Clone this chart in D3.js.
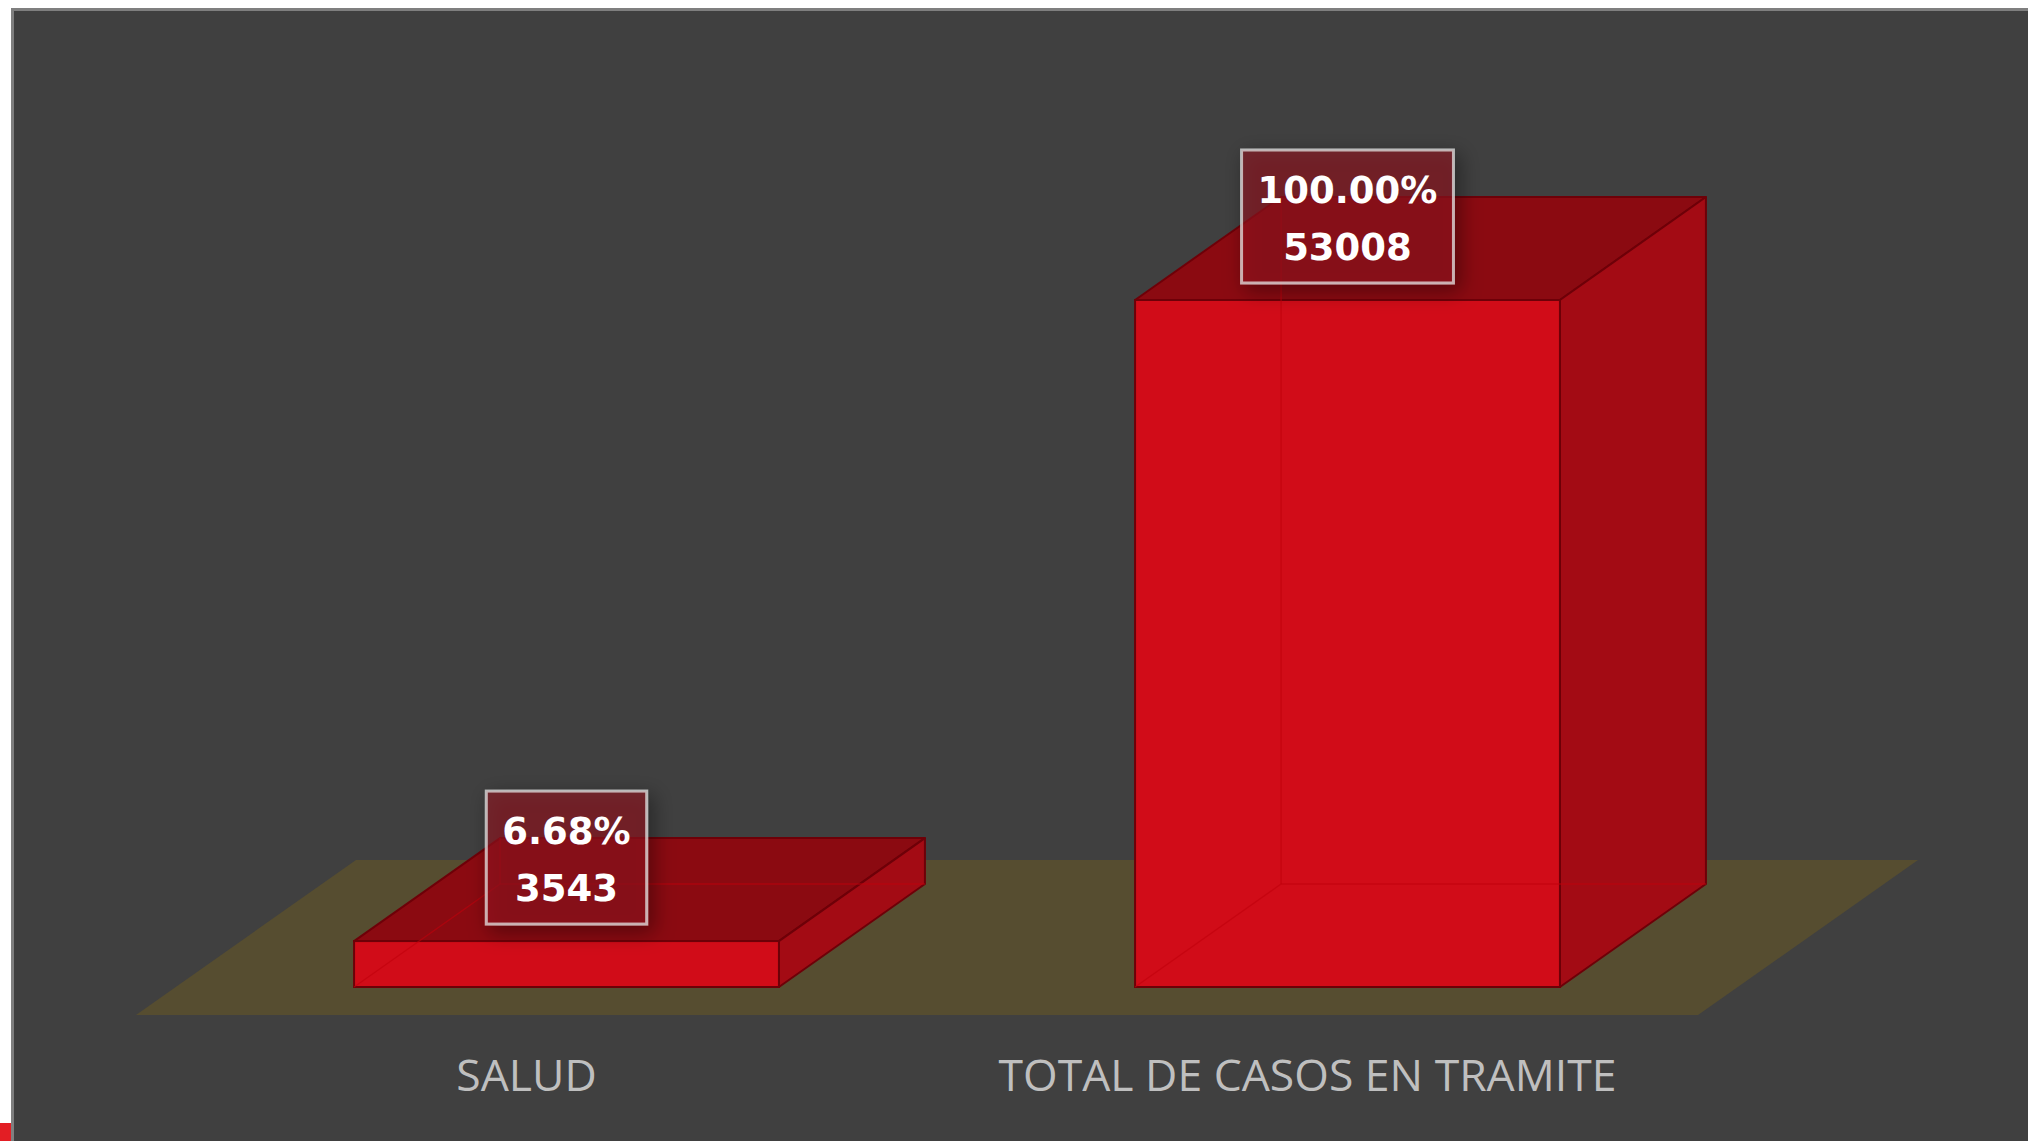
<!DOCTYPE html>
<html><head><meta charset="utf-8">
<script src="https://cdn.jsdelivr.net/npm/d3@7"></script>
<style>html,body{margin:0;padding:0;background:#fff;overflow:hidden}</style>
</head><body>
<svg id="chart" width="2028" height="1141"></svg>
<script>
const categories = ["SALUD", "TOTAL DE CASOS EN TRAMITE"];
const values = [3543, 53008];
const percentLabels = ["6.68%", "100.00%"];

const svg = d3.select("#chart");
const W = 2028, H = 1141;

// chart background
svg.append("rect").attr("x", 0).attr("y", 0).attr("width", W).attr("height", H).attr("fill", "#ffffff");
svg.append("rect").attr("x", 12.5).attr("y", 9.5).attr("width", W).attr("height", H)
  .attr("fill", "#404040").attr("stroke", "#7f7f7f").attr("stroke-width", 3);
svg.append("rect").attr("x", 0).attr("y", 1123).attr("width", 11).attr("height", 18).attr("fill", "#e31e24");

const defs = svg.append("defs");
const f = defs.append("filter").attr("id", "shadow").attr("x", "-40%").attr("y", "-40%").attr("width", "180%").attr("height", "180%");
f.append("feDropShadow").attr("dx", 5).attr("dy", 6).attr("stdDeviation", 10)
  .attr("flood-color", "#000").attr("flood-opacity", 0.65);

// 3D geometry
const floorFront = 1015;
const floorDepth = [220, -155];
const barFrontOff = [40, -28];
const barDepth = [146, -103];

const x = d3.scaleBand().domain(categories).range([136, 1698]).padding(0);
const baseY = floorFront + barFrontOff[1];
const y = d3.scaleLinear().domain([0, 53008]).range([baseY, 300]);
const barW = x.bandwidth() * 0.544;

// floor
const fx0 = x.range()[0], fx1 = x.range()[1];
svg.append("polygon")
  .attr("points", [[fx0, floorFront], [fx1, floorFront], [fx1 + floorDepth[0], floorFront + floorDepth[1]], [fx0 + floorDepth[0], floorFront + floorDepth[1]]].map(p => p.join(",")).join(" "))
  .attr("fill", "#564d30");

const dx = barDepth[0], dy = barDepth[1];
const gBars = svg.append("g");
categories.forEach((c, i) => {
  const cx = x(c) + x.bandwidth() / 2 + barFrontOff[0];
  const x0 = cx - barW / 2, x1 = cx + barW / 2;
  const yt = y(values[i]), yb = baseY;
  const g = gBars.append("g");
  const pts = a => a.map(p => p.join(",")).join(" ");
  // top face
  g.append("polygon").attr("points", pts([[x0, yt], [x1, yt], [x1 + dx, yt + dy], [x0 + dx, yt + dy]]))
    .attr("fill", "#8b0a11").attr("stroke", "#6e0008").attr("stroke-width", 2).attr("stroke-linejoin", "round");
  // right face
  g.append("polygon").attr("points", pts([[x1, yt], [x1 + dx, yt + dy], [x1 + dx, yb + dy], [x1, yb]]))
    .attr("fill", "#a30b14").attr("stroke", "#6e0008").attr("stroke-width", 2).attr("stroke-linejoin", "round");
  // front face
  g.append("rect").attr("x", x0).attr("y", yt).attr("width", barW).attr("height", yb - yt)
    .attr("fill", "#d10c18").attr("stroke", "#6e0008").attr("stroke-width", 2);
  // hidden edges (transparency)
  const hid = [[[x0 + dx, yt + dy], [x0 + dx, yb + dy]], [[x0 + dx, yb + dy], [x1 + dx, yb + dy]], [[x0, yb], [x0 + dx, yb + dy]]];
  hid.forEach(l => g.append("line").attr("x1", l[0][0]).attr("y1", l[0][1]).attr("x2", l[1][0]).attr("y2", l[1][1])
    .attr("stroke", "#c0000c").attr("stroke-width", 1.5).attr("opacity", 0.6));

  // data label box
  const lg = svg.append("g");
  const bh = 133;
  const by = yt - 17 - bh;
  const t1 = lg.append("text").attr("x", cx).attr("y", by + 53).attr("text-anchor", "middle")
    .attr("font-family", "DejaVu Sans").attr("font-weight", "bold").attr("font-size", 37).attr("fill", "#ffffff")
    .text(percentLabels[i]);
  const t2 = lg.append("text").attr("x", cx).attr("y", by + 110).attr("text-anchor", "middle")
    .attr("font-family", "DejaVu Sans").attr("font-weight", "bold").attr("font-size", 37).attr("fill", "#ffffff")
    .text(values[i]);
  const tw = Math.max(t1.node().getComputedTextLength(), t2.node().getComputedTextLength());
  const bw = tw + 32;
  lg.insert("rect", "text").attr("x", cx - bw / 2).attr("y", by).attr("width", bw).attr("height", bh)
    .attr("fill", "rgba(150,18,28,0.55)").attr("stroke", "rgba(225,225,225,0.75)").attr("stroke-width", 3)
    .attr("filter", "url(#shadow)");
});

// category labels
svg.append("g").selectAll("text").data(categories).join("text")
  .attr("x", d => x(d) + x.bandwidth() / 2).attr("y", 1091)
  .attr("text-anchor", "middle").attr("font-family", "Open Sans").attr("font-size", 44.5)
  .attr("fill", "#bfbfbf").text(d => d);
</script>
</body></html>
